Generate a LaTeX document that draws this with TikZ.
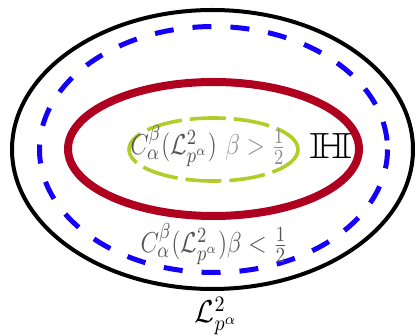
\documentclass[tikz,border=0pt]{standalone}
\usepackage{amssymb}
\definecolor{redc}{RGB}{176,0,32}
\definecolor{greenc}{RGB}{178,204,40}
\definecolor{bluec}{RGB}{20,0,250}
\definecolor{txtd}{RGB}{85,85,85}
\definecolor{txtl}{RGB}{140,140,140}
\tikzset{
  lbl/.style={inner sep=0pt, text=txtd, font=\fontsize{13}{15}\selectfont, yscale=1.2},
}
\begin{document}
\begin{tikzpicture}[x=0.5pt,y=-0.5pt]
\useasboundingbox (0,0) rectangle (418,336);
\draw[line width=2pt, black] (212.5,149.5) ellipse [x radius=200.5, y radius=139.5];
\draw[line width=2.5pt, bluec, dash pattern=on 9.5pt off 9.5pt] (213.5,149.5) ellipse [x radius=174, y radius=123];
\draw[line width=4pt, redc] (213.5,149) ellipse [x radius=145.5, y radius=67];
\draw[line width=1.8pt, greenc, dash pattern=on 18pt off 4pt] (213.5,149.5) ellipse [x radius=84.5, y radius=31.5];
\node[lbl] (t1) at (208,146) {$C^{\beta}_{\alpha}(\mathcal{L}^2_{p^\alpha})\ \textcolor{txtl}{\beta>\frac{1}{2}}$};
\node[inner sep=0pt, font=\LARGE, xscale=1.6, yscale=1.05] (H) at (331,146) {$\mathbb{H}$};
\node[lbl] (t2) at (214,244) {$C^{\beta}_{\alpha}(\mathcal{L}^2_{p^\alpha})\beta<\frac{1}{2}$};
\node[inner sep=0pt, font=\Large, yscale=1.1] (t3) at (216,316) {$\mathcal{L}^2_{p^\alpha}$};
\end{tikzpicture}
\end{document}
